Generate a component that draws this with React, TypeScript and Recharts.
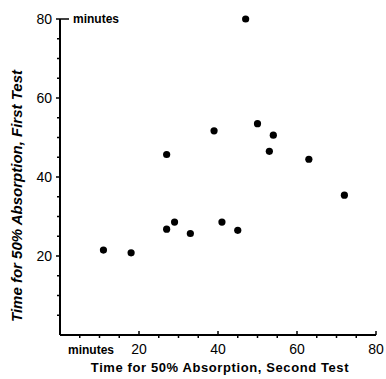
import { ScatterChart, Scatter, XAxis, YAxis } from "recharts";

// time for 50% absorption (minutes)
const secondTest = [11, 18, 27, 29, 33, 41, 45, 72, 47, 39, 50, 54, 53, 63, 27];
const firstTest = [21.5, 20.8, 26.8, 28.6, 25.7, 28.6, 26.5, 35.4, 80, 51.7, 53.5, 50.6, 46.5, 44.5, 45.7];

const tickValues = [0, 5, 10, 15, 20, 25, 30, 35, 40, 45, 50, 55, 60, 65, 70, 75, 80];
const labelValues = [20, 40, 60, 80];

const data = secondTest.map((x, i) => ({ x, y: firstTest[i] }));

const font = "'Liberation Sans', Arial, sans-serif";

const YTick = (props: any) => {
  const { x, y, payload } = props;
  const v = payload.value;
  const major = labelValues.includes(v);
  return (
    <g>
      {v > 0 && (
        <line x1={x - (major ? 4 : 3)} x2={v === 80 ? x + 9 : x} y1={y} y2={y} stroke="#000" strokeWidth={1.5} />
      )}
      {major && (
        <text x={x - 8} y={y + 5} textAnchor="end" fontSize={14} fontFamily={font} fill="#000">
          {v}
        </text>
      )}
      {v === 80 && (
        <text x={x + 13} y={y + 4} fontSize={12} fontWeight="bold" fontFamily={font} fill="#000">
          minutes
        </text>
      )}
    </g>
  );
};

const XTick = (props: any) => {
  const { x, y, payload } = props;
  const v = payload.value;
  const major = labelValues.includes(v);
  return (
    <g>
      {v > 0 && (major ? (
        <line x1={x} x2={x} y1={y} y2={y - 4} stroke="#000" strokeWidth={1.5} />
      ) : (
        <line x1={x} x2={x} y1={y} y2={y + 3} stroke="#000" strokeWidth={1.5} />
      ))}
      {major && (
        <text x={x} y={y + 19} textAnchor="middle" fontSize={14} fontFamily={font} fill="#000">
          {v}
        </text>
      )}
      {v === 0 && (
        <text x={x + 31} y={y + 19} textAnchor="middle" fontSize={12} fontWeight="bold" fontFamily={font} fill="#000">
          minutes
        </text>
      )}
    </g>
  );
};

export default function App() {
  return (
    <div style={{ position: "absolute", left: 0, top: 0, background: "#fff" }}>
      <ScatterChart width={386} height={379} margin={{ top: 19, right: 10, left: 0, bottom: 0 }}>
        <XAxis
          type="number"
          dataKey="x"
          domain={[0, 80]}
          ticks={tickValues}
          interval={0}
          tick={XTick}
          tickSize={0}
          tickMargin={0}
          tickLine={false}
          height={44}
          axisLine={{ stroke: "#000", strokeWidth: 2 }}
        />
        <YAxis
          type="number"
          dataKey="y"
          domain={[0, 80]}
          ticks={tickValues}
          interval={0}
          tick={YTick}
          tickSize={0}
          tickMargin={0}
          tickLine={false}
          width={60}
          axisLine={{ stroke: "#000", strokeWidth: 2 }}
        />
        <Scatter
          data={data}
          fill="#000"
          isAnimationActive={false}
          shape={(p: any) => <circle cx={p.cx} cy={p.cy} r={3.6} fill="#000" />}
        />
        <text
          x={18}
          y={196}
          transform="rotate(-90 18 196)"
          textAnchor="middle"
          dominantBaseline="middle"
          fontSize={15}
          fontWeight="bold"
          fontStyle="italic"
          fontFamily={font}
          fill="#000"
        >
          Time for 50% Absorption, First Test
        </text>
        <text
          x={220}
          y={372}
          textAnchor="middle"
          fontSize={13}
          fontWeight="bold"
          letterSpacing={0.6}
          fontFamily={font}
          fill="#000"
        >
          Time for 50% Absorption, Second Test
        </text>
      </ScatterChart>
    </div>
  );
}
